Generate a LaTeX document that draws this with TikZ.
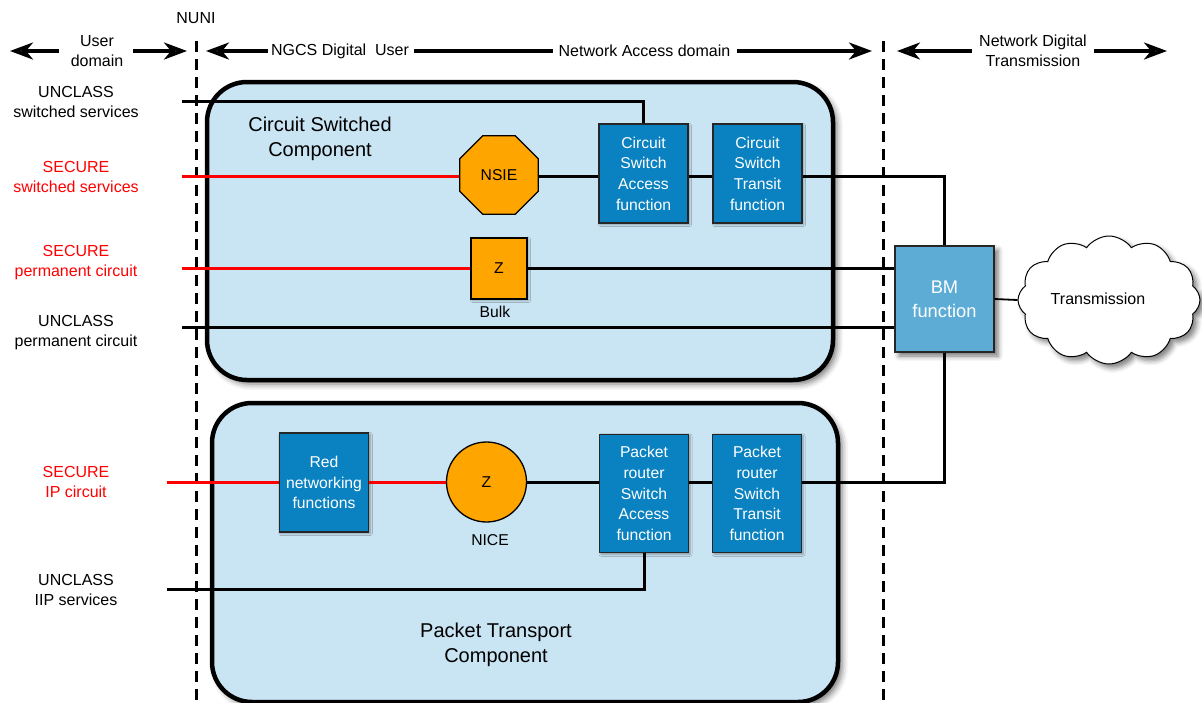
\documentclass[tikz,border=0pt]{standalone}
\usepackage{fontspec}
\setmainfont{Liberation Sans}
\usetikzlibrary{shapes.geometric,shapes.symbols,arrows.meta,shadows.blur}
\definecolor{panel}{RGB}{201,228,243}
\definecolor{fnblue}{RGB}{10,130,193}
\definecolor{bmblue}{RGB}{92,172,214}
\definecolor{zorange}{RGB}{255,165,0}
\definecolor{securered}{RGB}{255,0,0}
\begin{document}
\begin{tikzpicture}[x=1pt,y=-1pt,
  txt/.style={font=\fontsize{15.7}{20.6}\selectfont, align=center, inner sep=0pt},
  lbl/.style={font=\fontsize{16}{20}\selectfont, align=center, inner sep=0pt},
  seclbl/.style={lbl, text=securered},
  bigtxt/.style={font=\fontsize{20}{25}\selectfont, align=center, inner sep=0pt},
  fnbox/.style={draw=black!85, line width=1.3pt, fill=fnblue, text=white, txt,
    minimum width=89pt, blur shadow={shadow xshift=1.5pt, shadow yshift=-1.5pt, shadow blur radius=2pt, shadow opacity=35}},
  zbox/.style={draw=black, line width=1.3pt, fill=zorange, txt},
  panelbox/.style={draw=black, line width=4.5pt, fill=panel, rounded corners=40pt,
    blur shadow={shadow xshift=4pt, shadow yshift=-4pt, shadow blur radius=6pt, shadow opacity=55}},
  link/.style={line width=3pt, draw=black},
  redlink/.style={line width=3pt, draw=securered},
  hdr/.style={line width=3.4pt, -{Stealth[length=23pt,width=17pt,inset=7pt]}},
  hdrline/.style={line width=3.4pt},
  nuni/.style={line width=3pt, dash pattern=on 11pt off 7pt},
]
\useasboundingbox (0,0) rectangle (1202,702);

% panels
\path[panelbox] (207,82) rectangle (833,380);
\path[panelbox] (212,403) rectangle (838,702);

% domain boundaries
\coordinate (nuniTop) at (196,41);
\coordinate (nuniBot) at (196,702);
\coordinate (ndtTop) at (883,41);
\coordinate (ndtBot) at (883,702);
\draw[nuni] (nuniTop) -- (nuniBot);
\draw[nuni] (ndtTop) -- (ndtBot);

% header
\node[lbl] (nuni) at (196,18) {NUNI};
\node[lbl] (ud) at (97,51) {User\\domain};
\node[lbl] (ngcs) at (340,51) {NGCS Digital\ \ User};
\node[lbl] (nad) at (644.5,51) {Network Access domain};
\node[lbl] (ndt) at (1033,51) {Network Digital\\Transmission};
\coordinate (a1t) at (59,51);   \coordinate (a1h) at (10,51);
\coordinate (a2t) at (133,51);  \coordinate (a2h) at (187,51);
\coordinate (a3t) at (268,51);  \coordinate (a3h) at (206,51);
\coordinate (l1a) at (414,51);  \coordinate (l1b) at (553,51);
\coordinate (a4t) at (737,51);  \coordinate (a4h) at (872,51);
\coordinate (a5t) at (972,51);  \coordinate (a5h) at (897,51);
\coordinate (a6t) at (1094,51); \coordinate (a6h) at (1167,51);
\draw[hdr] (a1t) -- (a1h);
\draw[hdr] (a2t) -- (a2h);
\draw[hdr] (a3t) -- (a3h);
\draw[hdrline] (l1a) -- (l1b);
\draw[hdr] (a4t) -- (a4h);
\draw[hdr] (a5t) -- (a5h);
\draw[hdr] (a6t) -- (a6h);

% left labels
\node[lbl] (lus) at (76,102) {UNCLASS\\switched services};
\node[seclbl] (lss) at (76,177) {SECURE\\switched services};
\node[seclbl] (lsp) at (76,263) {SECURE\\permanent circuit};
\node[lbl] (lup) at (76,333) {UNCLASS\\permanent circuit};
\node[seclbl] (lip) at (76,482) {SECURE\\IP circuit};
\node[lbl] (liip) at (76,589.5) {UNCLASS\\IIP services};

% panel titles
\node[bigtxt] (cstitle) at (320,138.5) {Circuit Switched\\Component};
\node[bigtxt] (pttitle) at (496,645) {Packet Transport\\Component};

% circuit switched nodes
\node[regular polygon, regular polygon sides=8, minimum size=85pt, draw=black, line width=1.3pt, fill=zorange, txt] (nsie) at (499,175) {NSIE};
\node[fnbox, minimum height=99pt] (csaf) at (643.5,173.5) {Circuit\\Switch\\Access\\function};
\node[fnbox, minimum height=99pt] (cstf) at (757.5,173.5) {Circuit\\Switch\\Transit\\function};
\node[zbox, minimum width=56pt, minimum height=61pt, blur shadow={shadow xshift=1.5pt, shadow yshift=-1.5pt, shadow blur radius=2pt, shadow opacity=30}] (zb) at (499,268.5) {Z};
\node[txt] (bulk) at (495,312) {Bulk};

% BM and cloud
\node[draw=black!85, line width=1.3pt, fill=bmblue, text=white, minimum width=99pt, minimum height=106pt,
  font=\fontsize{18.3}{24}\selectfont, align=center, inner sep=0pt,
  blur shadow={shadow xshift=4pt, shadow yshift=-4pt, shadow blur radius=5pt, shadow opacity=55}] (bm) at (944.5,299) {BM\\function};
\node[cloud, cloud puffs=12, cloud puff arc=110, aspect=1.6, draw=black, line width=1pt, fill=white,
  minimum width=182pt, minimum height=128pt,
  blur shadow={shadow xshift=4pt, shadow yshift=-4pt, shadow blur radius=5pt, shadow opacity=50}] (cloud) at (1109,300) {};
\node[lbl] (trans) at (1098,299) {Transmission};

% packet nodes
\node[fnbox, minimum width=89.5pt, minimum height=99pt] (rnf) at (324,482.5) {Red\\networking\\functions};
\node[circle, draw=black, line width=1.3pt, fill=zorange, minimum size=80pt, txt] (nice) at (486.5,482) {Z};
\node[txt] (nicel) at (490,540) {NICE};
\node[fnbox, minimum height=118.5pt] (psaf) at (644,493.5) {Packet\\router\\Switch\\Access\\function};
\node[fnbox, minimum height=118.5pt] (pstf) at (757,493.5) {Packet\\router\\Switch\\Transit\\function};

% connectors
\coordinate (us1) at (182,101.5);
\coordinate (ss1) at (182,176.5);
\coordinate (sp1) at (182,268.5);
\coordinate (up1) at (182,327.5);
\coordinate (ip1) at (167,482);
\coordinate (iip1) at (167,589);

\draw[link] (us1) -| (csaf.north);
\draw[redlink] (ss1) -- (ss1 -| nsie.west);
\draw[link] (ss1 -| nsie.east) -- (ss1 -| csaf.west);
\draw[link] (ss1 -| csaf.east) -- (ss1 -| cstf.west);
\draw[link] (ss1 -| cstf.east) -| (bm.north);
\draw[redlink] (sp1) -- (zb.west);
\draw[link] (zb.east) -- (zb.east -| bm.west);
\draw[link] (up1) -- (up1 -| bm.west);
\draw[link, line width=1.8pt] (bm.east) -- (cloud.west);
\draw[link] (bm.south) |- (pstf.east |- nice.center);
\draw[redlink] (ip1) -- (ip1 -| rnf.west);
\draw[redlink] (rnf.east |- nice.center) -- (nice.west);
\draw[link] (nice.east) -- (nice.east -| psaf.west);
\draw[link] (psaf.east |- nice.center) -- (pstf.west |- nice.center);
\draw[link] (iip1) -| (psaf.south);
\end{tikzpicture}
\end{document}
